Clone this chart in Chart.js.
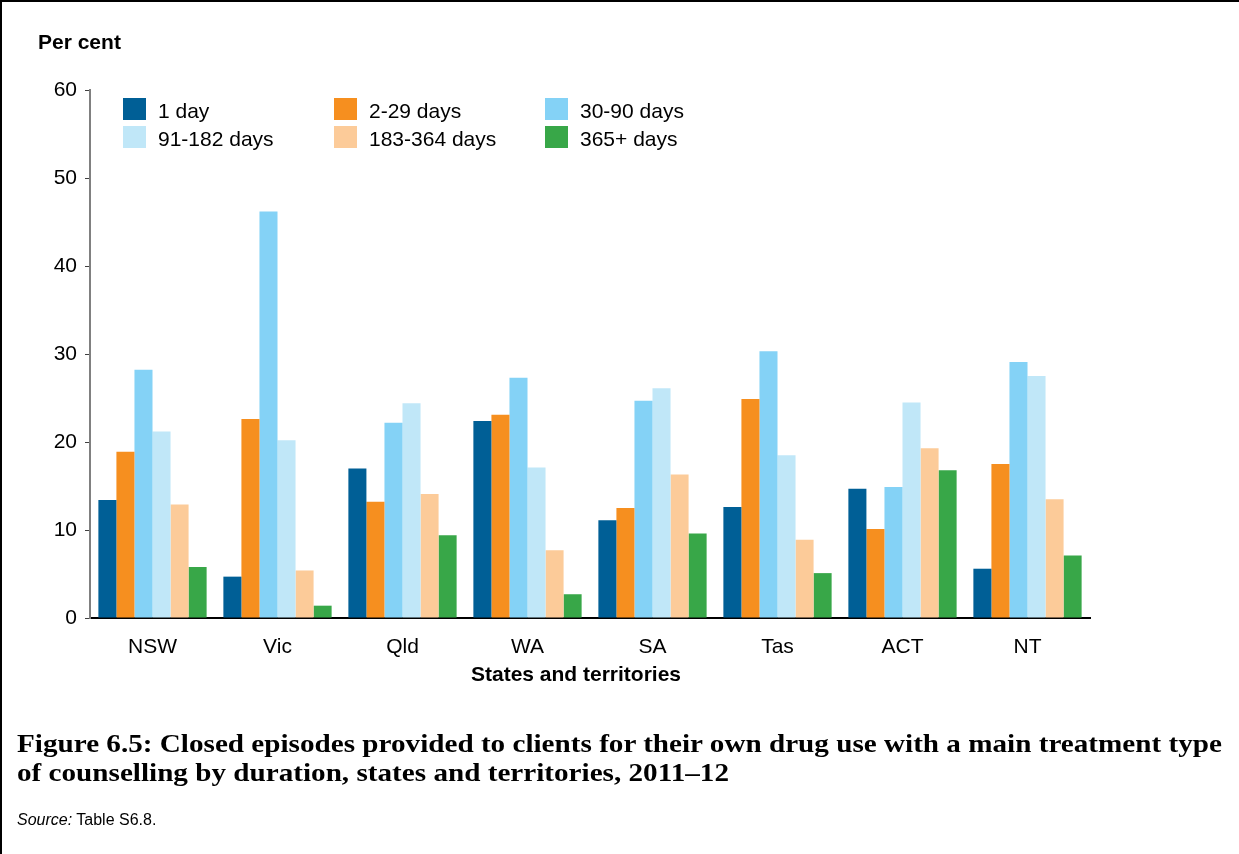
<!DOCTYPE html>
<html>
<head>
<meta charset="utf-8">
<script src="https://cdn.jsdelivr.net/npm/chart.js@4.4.1/dist/chart.umd.min.js"></script>
<style>
  html, body { margin: 0; padding: 0; background: #fff; }
  #page { position: relative; width: 1239px; height: 854px; overflow: hidden; background: #fff; font-family: "Liberation Sans", Arial, sans-serif; color: #000; }
  #wrap { position: absolute; left: 0; top: 0; width: 1239px; height: 854px; }
  .bt { position: absolute; left: 0; top: 0; width: 1239px; height: 2px; background: #000; }
  .bl { position: absolute; left: 0; top: 0; width: 2px; height: 854px; background: #000; }
  .txt { position: absolute; white-space: nowrap; }
  #ytitle { left: 38px; top: 31px; font: bold 21px/21px "Liberation Sans", Arial, sans-serif; }
  #xtitle { left: 0; width: 1152px; text-align: center; top: 663px; font: bold 21px/21px "Liberation Sans", Arial, sans-serif; }
  .cap { left: 17px; font: bold 25px/25px "Liberation Serif", "Times New Roman", serif; transform-origin: 0 0; }
  #cap1 { top: 731px; }
  #cap2 { top: 760px; }
  #src { left: 17px; top: 812px; font: 16px/16px "Liberation Sans", Arial, sans-serif; }
</style>
</head>
<body>
<div id="page">
  <div id="wrap"><canvas id="c"></canvas></div>
  <div class="txt" id="ytitle">Per cent</div>
  <div class="txt" id="xtitle">States and territories</div>
  <div class="txt cap" id="cap1">Figure 6.5: Closed episodes provided to clients for their own drug use with a main treatment type</div>
  <div class="txt cap" id="cap2">of counselling by duration, states and territories, 2011–12</div>
  <div class="txt" id="src"><i>Source:</i> Table S6.8.</div>
  <div class="bt"></div>
  <div class="bl"></div>
</div>
<script>
// ---- data ----
const categories = ["NSW", "Vic", "Qld", "WA", "SA", "Tas", "ACT", "NT"];
const seriesNames = ["1 day", "2-29 days", "30-90 days", "91-182 days", "183-364 days", "365+ days"];
const day1      = [13.4,  4.7, 17.0, 22.4, 11.1, 12.6, 14.7,  5.6];
const days2_29  = [18.9, 22.6, 13.2, 23.1, 12.5, 24.9, 10.1, 17.5];
const days30_90 = [28.2, 46.2, 22.2, 27.3, 24.7, 30.3, 14.9, 29.1];
const days91_182  = [21.2, 20.2, 24.4, 17.1, 26.1, 18.5, 24.5, 27.5];
const days183_364 = [12.9,  5.4, 14.1,  7.7, 16.3,  8.9, 19.3, 13.5];
const days365plus = [ 5.8,  1.4,  9.4,  2.7,  9.6,  5.1, 16.8,  7.1];
const yTicks = [0, 10, 20, 30, 40, 50, 60];

const seriesValues = [day1, days2_29, days30_90, days91_182, days183_364, days365plus];
const colors = ["#005F96", "#F68F1F", "#84D2F6", "#C0E7F8", "#FCCB99", "#38A748"];

const FONT = '"Liberation Sans", Arial, sans-serif';

const legendPlugin = {
  id: 'gridLegend',
  afterDraw(chart) {
    const ctx = chart.ctx;
    const colX = [123, 334, 545];
    const rowY = [98, 126];
    ctx.save();
    ctx.font = '21px ' + FONT;
    ctx.textBaseline = 'middle';
    ctx.textAlign = 'left';
    chart.data.datasets.forEach((ds, i) => {
      const col = i % 3, row = Math.floor(i / 3);
      const x = colX[col], y = rowY[row];
      ctx.fillStyle = ds.backgroundColor;
      ctx.fillRect(x, y, 23, 22);
      ctx.fillStyle = '#000';
      ctx.fillText(ds.label, x + 35, y + 14);
    });
    ctx.restore();
  }
};

new Chart(document.getElementById('c'), {
  type: 'bar',
  data: {
    labels: categories,
    datasets: seriesNames.map((name, i) => ({
      label: name,
      data: seriesValues[i],
      backgroundColor: colors[i],
      borderWidth: 0,
      categoryPercentage: 0.866,
      barPercentage: 1.0
    }))
  },
  options: {
    responsive: true,
    maintainAspectRatio: false,
    animation: false,
    layout: { padding: { top: 90, right: 149, left: 0, bottom: 0 } },
    plugins: {
      legend: { display: false },
      tooltip: { enabled: false },
      title: { display: false }
    },
    scales: {
      x: {
        grid: { display: false, drawTicks: false },
        border: { display: true, color: '#000', width: 2 },
        ticks: { color: '#000', font: { family: FONT, size: 21 }, padding: 17, maxRotation: 0 },
        afterFit(s) { s.height = 236; }
      },
      y: {
        min: 0, max: 60,
        afterBuildTicks(s) { s.ticks = yTicks.map(v => ({ value: v })); },
        grid: { display: true, drawOnChartArea: false, drawTicks: true, tickLength: 5, color: '#404040', lineWidth: 1 },
        border: { display: true, color: '#808080', width: 2 },
        ticks: { color: '#000', font: { family: FONT, size: 21 }, padding: 8 },
        afterFit(s) { s.width = 90; }
      }
    }
  },
  plugins: [legendPlugin]
});

// fit the caption to the reference line length
(function () {
  const c1 = document.getElementById('cap1'), c2 = document.getElementById('cap2');
  const w = c1.getBoundingClientRect().width;
  const k = 1205 / w;
  c1.style.transform = 'scaleX(' + k + ')';
  c2.style.transform = 'scaleX(' + k + ')';
})();
</script>
</body>
</html>
